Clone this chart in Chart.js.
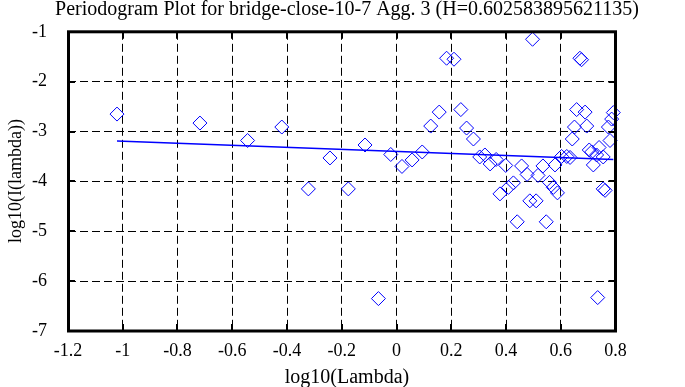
<!DOCTYPE html>
<html>
<head>
<meta charset="utf-8">
<script src="https://cdn.jsdelivr.net/npm/chart.js@4.4.1/dist/chart.umd.min.js"></script>
<style>
html,body{margin:0;padding:0;background:#fff;}
canvas{display:block;}
</style>
</head>
<body>
<canvas id="c" width="685" height="387"></canvas>
<script>
// ---- data ----
const logLambda = [-1.021,-0.718,-0.544,-0.419,-0.322,-0.243,-0.176,-0.115,-0.066,-0.021,
  0.020,0.057,0.094,0.125,0.156,0.183,0.210,0.235,0.256,0.281,
  0.304,0.323,0.342,0.364,0.378,0.399,0.409,0.427,0.441,0.457,
  0.477,0.487,0.497,0.510,0.517,0.535,0.547,0.559,0.573,0.579,
  0.588,0.603,0.622,0.634,0.642,0.650,0.658,0.670,0.676,0.689,
  0.695,0.704,0.713,0.719,0.731,0.735,0.740,0.755,0.755,0.762,
  0.774,0.780,0.786,0.792];
const logI = [-2.65,-2.83,-3.18,-2.91,-4.15,-3.53,-4.15,-3.27,-6.35,-3.46,
  -3.70,-3.57,-3.41,-2.89,-2.61,-1.53,-1.55,-2.56,-2.93,-3.15,
  -3.51,-3.47,-3.65,-3.56,-4.25,-3.68,-4.12,-4.03,-4.81,-3.69,
  -3.86,-4.39,-1.15,-4.39,-3.88,-3.69,-4.81,-4.02,-4.12,-3.67,
  -4.23,-3.50,-3.50,-3.52,-3.15,-2.91,-2.56,-1.53,-1.56,-2.61,
  -2.89,-3.37,-3.41,-3.67,-3.47,-6.33,-3.32,-3.51,-4.15,-4.18,
  -2.91,-3.18,-2.75,-2.62];
const fitX = [-1.021, 0.792];
const fitY = [-3.19, -3.562];
const xTicks = [-1.2,-1,-0.8,-0.6,-0.4,-0.2,0,0.2,0.4,0.6,0.8];
const xTickLabels = ['-1.2','-1','-0.8','-0.6','-0.4','-0.2','0','0.2','0.4','0.6','0.8'];
const yTicks = [-7,-6,-5,-4,-3,-2,-1];
const yTickLabels = ['-7','-6','-5','-4','-3','-2','-1'];
const titleText = 'Periodogram Plot for bridge-close-10-7 Agg. 3 (H=0.602583895621135)';
const xTitle = 'log10(Lambda)';
const yTitle = 'log10(I(lambda))';

const FONT = '"Liberation Serif", "DejaVu Serif", serif';
const BLUE = '#0000ff';

const points = logLambda.map((x, i) => ({x: x, y: logI[i]}));
const fit = fitX.map((x, i) => ({x: x, y: fitY[i]}));

const framePlugin = {
  id: 'frame',
  afterDraw(chart) {
    const ctx = chart.ctx;
    const a = chart.chartArea;
    const xs = chart.scales.x, ys = chart.scales.y;
    ctx.save();
    // inward ticks on all four sides
    ctx.strokeStyle = '#000';
    ctx.lineWidth = 2;
    ctx.beginPath();
    xTicks.forEach(v => {
      const px = Math.round(xs.getPixelForValue(v));
      ctx.moveTo(px, a.bottom); ctx.lineTo(px, a.bottom - 7);
      ctx.moveTo(px, a.top); ctx.lineTo(px, a.top + 7);
    });
    yTicks.forEach(v => {
      const py = Math.round(ys.getPixelForValue(v));
      ctx.moveTo(a.left, py); ctx.lineTo(a.left + 7, py);
      ctx.moveTo(a.right, py); ctx.lineTo(a.right - 7, py);
    });
    ctx.stroke();
    // thick frame
    ctx.lineWidth = 3;
    ctx.strokeRect(a.left + 0.5, a.top, a.right - a.left - 0.5, a.bottom - a.top);
    // titles
    ctx.fillStyle = '#000';
    ctx.textAlign = 'center';
    ctx.textBaseline = 'alphabetic';
    ctx.font = '20px ' + FONT;
    ctx.fillText(titleText, 347, 15);
    ctx.fillText(xTitle, 347, 383);
    ctx.font = '18px ' + FONT;
    ctx.translate(21, 181);
    ctx.rotate(-Math.PI / 2);
    ctx.fillText(yTitle, 0, 0);
    ctx.restore();
  }
};

new Chart(document.getElementById('c'), {
  type: 'scatter',
  data: {
    datasets: [
      {
        data: points,
        showLine: false,
        pointStyle: 'rectRot',
        pointRadius: 7,
        pointHoverRadius: 7,
        pointBorderWidth: 1,
        borderColor: BLUE,
        backgroundColor: 'rgba(0,0,0,0)',
        pointBackgroundColor: 'rgba(0,0,0,0)',
        clip: false
      },
      {
        data: fit,
        showLine: true,
        pointRadius: 0,
        borderColor: BLUE,
        borderWidth: 1.5,
        fill: false
      }
    ]
  },
  options: {
    responsive: false,
    animation: false,
    devicePixelRatio: 1,
    layout: {padding: {left: 0, right: 69.5, top: 31, bottom: 0}},
    plugins: {legend: {display: false}, title: {display: false}, tooltip: {enabled: false}},
    scales: {
      x: {
        type: 'linear', min: -1.2, max: 0.8,
        afterBuildTicks: s => { s.ticks = xTicks.map(v => ({value: v})); },
        afterFit: s => { s.height = 56; },
        ticks: {
          color: '#000', padding: 9, maxRotation: 0, autoSkip: false,
          font: {family: FONT, size: 18},
          callback: (v, i) => xTickLabels[i]
        },
        grid: {color: '#000', lineWidth: 1, drawTicks: false},
        border: {display: false, dash: [8, 4]}
      },
      y: {
        type: 'linear', min: -7, max: -1,
        afterBuildTicks: s => { s.ticks = yTicks.map(v => ({value: v})); },
        afterFit: s => { s.width = 68; },
        ticks: {
          color: '#000', padding: 21, autoSkip: false,
          font: {family: FONT, size: 18},
          callback: (v, i) => yTickLabels[i]
        },
        grid: {color: '#000', lineWidth: 1, drawTicks: false},
        border: {display: false, dash: [8, 4]}
      }
    }
  },
  plugins: [framePlugin]
});
</script>
</body>
</html>
